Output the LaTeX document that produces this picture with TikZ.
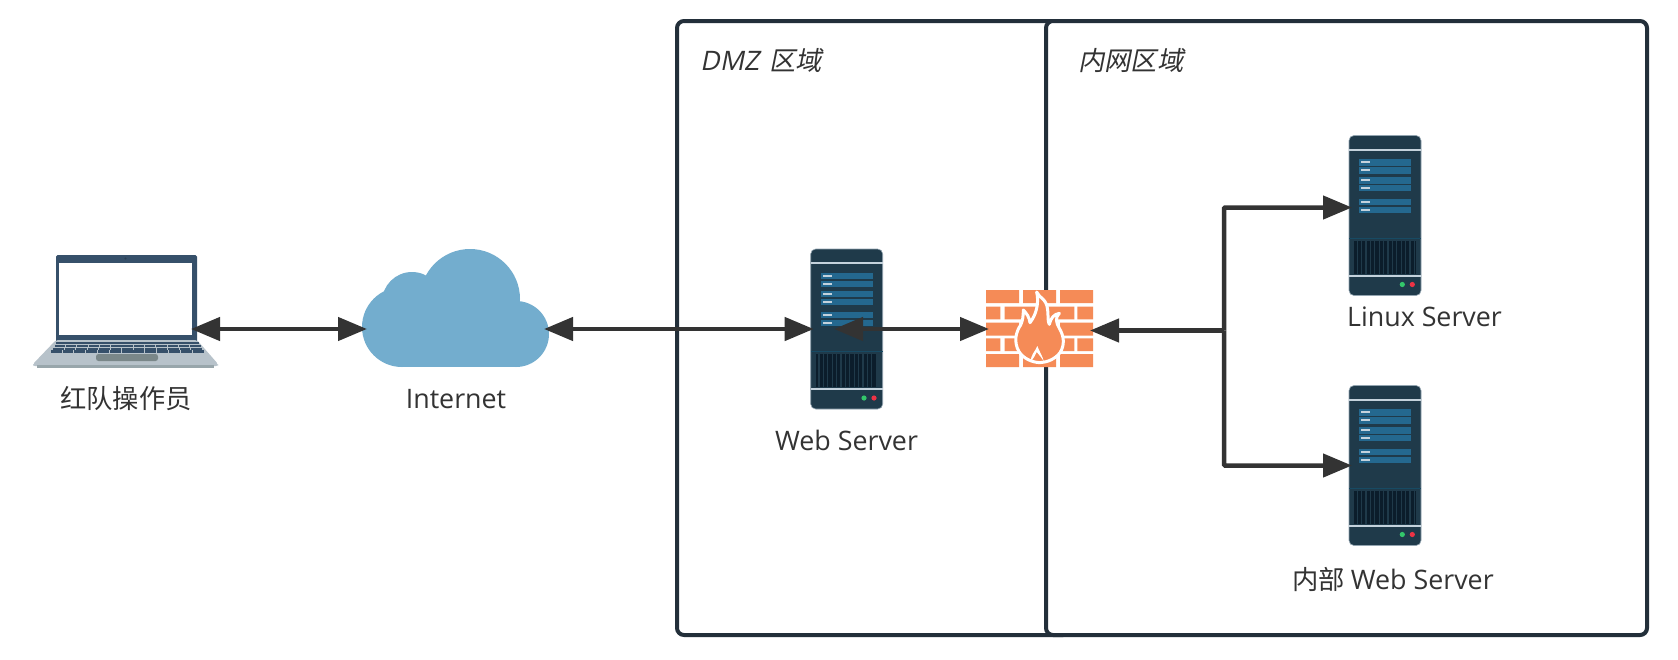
\documentclass[tikz,border=0pt]{standalone}
\usepackage{fontspec}
\setmainfont[Scale=1.02]{Open Sans}
\newfontfamily\cjk{Noto Sans CJK SC}
\newfontfamily\cjkit[FakeSlant=0.2]{Noto Sans CJK SC}
\newfontfamily\latit[FakeSlant=0.2,Scale=1.02]{Open Sans}
\usetikzlibrary{arrows.meta}
\definecolor{ink}{HTML}{333333}
\definecolor{zoneline}{HTML}{232F3A}
\definecolor{srv}{HTML}{1F3A4A}
\definecolor{srvbar}{HTML}{24688F}
\definecolor{srvlight}{HTML}{C4D2DC}
\definecolor{srvdark}{HTML}{0B1D2B}
\definecolor{srvsep}{HTML}{174A63}
\definecolor{brick}{HTML}{F58B57}
\definecolor{cloudblue}{HTML}{73ADCE}
\definecolor{lapdark}{HTML}{36506A}
\definecolor{lapbase}{HTML}{B7C2CA}
\definecolor{lapedge}{HTML}{98A6AB}
\definecolor{lappad}{HTML}{7A8789}
\tikzset{
  zone/.style={draw=zoneline,line width=4pt,rounded corners=7pt,fill=white,outer sep=0pt,inner sep=0pt},
  icon/.style={outer sep=0pt,inner sep=0pt},
  conn/.style={draw=ink,line width=4.5pt,shorten >=-3pt,-{Triangle[length=29pt,width=23pt]}},
  conntwo/.style={draw=ink,line width=4.5pt,shorten >=-3pt,shorten <=-3pt,{Triangle[length=29pt,width=23pt]}-{Triangle[length=29pt,width=23pt]}},
  lbl/.style={text=ink,font=\fontsize{26.3}{31}\selectfont,inner sep=0pt},
  pics/serverpic/.style={code={
    \fill[srv,draw=srvlight!70!srv,line width=.6pt,rounded corners=5pt] (0,0) rectangle (72,160);
    \fill[srvlight] (0,13.2) rectangle (72,15);
    \fill[srvlight] (0,139.2) rectangle (72,141);
    \fill[srvsep] (0,102) rectangle (72,103.4);
    \foreach \a/\b in {23.7/30,31.7/38,41.7/48,49.7/55.7,63/69.3,71/77.3}{
      \fill[srvbar] (10.3,\a) rectangle (62,\b);
      \fill[srvlight] (12,{(\a+\b)/2-.9}) rectangle (21,{(\a+\b)/2+.9});
    }
    \fill[srvdark] (5.3,104.3) rectangle (66.7,138.3);
    \foreach \i in {0,...,13}{
      \fill[srv] ({7.6+\i*4.4},104.3) rectangle ({8.8+\i*4.4},138.3);
    }
    \fill[srv] (5.3,104.3) rectangle (66.7,105.3);
    \fill[green!45!teal!80!white] (53.3,149) circle (2.6);
    \fill[red!65!purple!80!white] (63.3,149) circle (2.6);
  }}
}
\begin{document}
\begin{tikzpicture}[x=1pt,y=-1pt]
\useasboundingbox (0,0) rectangle (1678,659);
\fill[white] (0,0) rectangle (1678,659);

% zones
\node[zone,minimum width=393pt,minimum height=614pt] (dmz) at (873.5,328) {};
\node[zone,minimum width=601pt,minimum height=614pt] (lan) at (1346.5,328) {};
\node[lbl,anchor=west] (dmzlabel) at (700,61) {\latit DMZ\hspace{3pt} \cjkit 区域};
\node[lbl,anchor=west] (lanlabel) at (1078,61) {\cjkit 内网区域};

% laptop
\node[icon,minimum width=138pt,minimum height=80pt] (laptop) at (125,329) {};
\fill[lapdark,rounded corners=1.5pt] (56,255) rectangle (197,343);
\fill[white] (59,262.5) rectangle (191.5,335);
\fill[lapdark!80!black] (125.5,258.5) circle (1.2);
\fill[lapbase,rounded corners=2pt] (56,340) -- (197,340) -- (218,364) -- (218,366) -- (33,366) -- (33,364) -- cycle;
\fill[lapedge] (37,365) rectangle (214,368);
\foreach \y/\xa/\xb/\h in {341.7/56/199/2.5,344.6/54.4/201/2.5,347.5/52.7/202.5/2.5,350.3/50.3/204/2.4}{
  \foreach \i in {0,...,12}{
    \fill[lapdark] ({\xa+\i*(\xb-\xa)/13+.4},\y) rectangle ({\xa+(\i+1)*(\xb-\xa)/13-.5},{\y+\h});
  }
}
\fill[lappad,rounded corners=2.5pt] (96,354) rectangle (158,361);

% cloud
\node[icon,minimum width=183pt,minimum height=78pt] (cloud) at (455.5,329) {};
\fill[cloudblue] (470,299) circle (50) (412,302) circle (30) (402,327) circle (40) (516,334) circle (33);
\fill[cloudblue] (402,367) rectangle (516,300);

% servers
\node[icon,minimum width=72pt,minimum height=160pt] (web) at (846.7,329) {};
\node[icon,minimum width=72pt,minimum height=160pt] (linux) at (1385,215.5) {};
\node[icon,minimum width=72pt,minimum height=160pt] (inner) at (1385,465.5) {};
\pic at (web.north west) {serverpic};
\pic at (linux.north west) {serverpic};
\pic at (inner.north west) {serverpic};
\coordinate (webin) at (837,329);

% firewall
\node[icon,minimum width=107pt,minimum height=77pt] (fw) at (1039.5,329) {};
\fill[white] (986,290) rectangle (1093,367);
\begin{scope}[xshift=780pt,yshift=-230pt,x=.33333pt,y=-.33333pt]
  \fill[brick] (618,180) rectangle (717,219) (729,180) rectangle (828,219) (840,180) rectangle (939,219);
  \fill[brick] (618,230) rectangle (661,268) (674,230) rectangle (772,268) (785,230) rectangle (883,268) (892,230) rectangle (939,268);
  \fill[brick] (618,278) rectangle (717,317) (729,278) rectangle (828,317) (840,278) rectangle (939,317);
  \fill[brick] (618,325) rectangle (661,363) (674,325) rectangle (772,363) (785,325) rectangle (883,363) (892,325) rectangle (939,363);
  \fill[brick] (618,372) rectangle (717,411) (729,372) rectangle (828,411) (840,372) rectangle (939,411);
  \draw[white,fill=brick,line width=3pt,line join=round]
    (770,186) .. controls (778,205) and (800,205) .. (803,240)
    .. controls (805,262) and (803,275) .. (808,283)
    .. controls (812,265) and (822,252) .. (838,250)
    .. controls (825,262) and (828,278) .. (838,295)
    .. controls (852,318) and (855,345) .. (840,368)
    .. controls (825,388) and (800,397) .. (780,398)
    .. controls (755,397) and (730,385) .. (717,365)
    .. controls (700,335) and (708,305) .. (722,285)
    .. controls (728,272) and (730,258) .. (730,240)
    .. controls (740,250) and (748,262) .. (750,278)
    .. controls (768,255) and (778,220) .. (770,186) -- cycle;
  \fill[white] (752,394) .. controls (752,375) and (765,365) .. (772,348)
    .. controls (778,365) and (788,378) .. (792,396)
    .. controls (785,382) and (775,372) .. (770,366)
    .. controls (765,375) and (762,385) .. (752,394) -- cycle;
\end{scope}

% labels
\node[lbl] (lbllaptop) at (126,399) {\cjk 红队操作员};
\node[lbl] (lblcloud) at (456,399) {Internet};
\node[lbl] (lblweb) at (846.5,440) {Web Server};
\node[lbl] (lbllinux) at (1424.5,317) {Linux Server};
\node[lbl] (lblinner) at (1393,579) {\cjk 内部 \rmfamily Web Server};

% connectors
\path[conntwo] (laptop.east) -- (cloud.west);
\path[conntwo] (cloud.east) -- (web.west);
\path[conntwo] (webin) -- (fw.west);
\coordinate (junction) at (1224,330.5);
\coordinate (linuxport) at ([yshift=8pt]linux.west);
\path[conn] (junction) -- (fw.east |- junction);
\path[conn,rounded corners=1pt] (junction) |- (linuxport);
\path[conn,rounded corners=1pt] (junction) |- (inner.west);
\end{tikzpicture}
\end{document}
